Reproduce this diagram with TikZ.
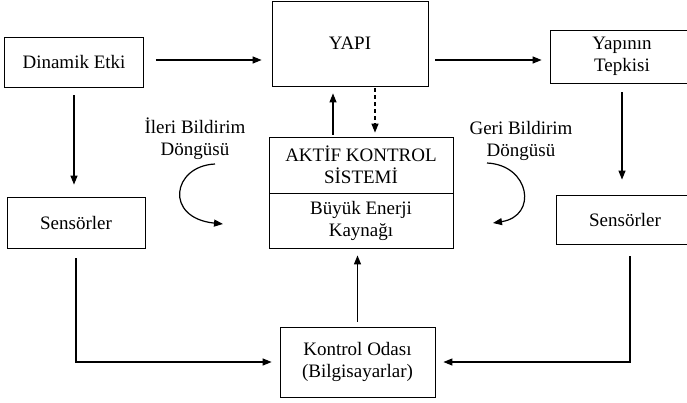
\documentclass[tikz,border=0pt]{standalone}
\usepackage{fontspec}
\setmainfont{Liberation Serif}
\usetikzlibrary{arrows.meta}

\begin{document}
\begin{tikzpicture}[x=1pt, y=-1pt,
  box/.style={draw, line width=0.8pt, inner sep=0pt, align=center, font=\fontsize{19}{22}\selectfont},
  lbl/.style={align=center, font=\fontsize{19}{22}\selectfont},
  arr/.style={line width=1.2pt, -{Triangle[length=9pt,width=7pt]}}]
\useasboundingbox (0,0) rectangle (687,402);
\node[box, minimum width=139pt, minimum height=50pt] (dinamik) at (74,62) {Dinamik Etki};
\node[box, minimum width=156pt, minimum height=85pt] (yapi) at (350,43.5) {YAPI};
\node[box, minimum width=144pt, minimum height=53pt] (tepki) at (622,56.5) {Yapının\\Tepkisi};
\node[box, minimum width=138pt, minimum height=51pt] (sensL) at (76,222.5) {Sensörler};
\node[box, minimum width=138pt, minimum height=49pt] (sensR) at (625,219.5) {Sensörler};
\node[box, minimum width=184pt, minimum height=56pt] (aktif) at (361,165) {AKTİF KONTROL\\SİSTEMİ};
\node[box, minimum width=184pt, minimum height=55pt] (enerji) at (361,220.5) {Büyük Enerji\\Kaynağı};
\node[box, minimum width=155pt, minimum height=70pt] (kontrol) at (357.5,362) {Kontrol Odası\\(Bilgisayarlar)};
\node[lbl] (ileri) at (195,139) {İleri Bildirim\\Döngüsü};
\node[lbl] (geri) at (521,141) {Geri Bildirim\\Döngüsü};
\coordinate (ileriA) at (215,164);
\coordinate (ileriB) at (223,224);
\coordinate (geriA) at (487,163);
\coordinate (geriB) at (493,223);

\draw[arr, shorten <=12pt, shorten >=10pt] (dinamik.east |- 0,60) -- (yapi.west |- 0,60);
\draw[arr, shorten <=7pt, shorten >=8pt] (yapi.east |- 0,60) -- (tepki.west |- 0,60);
\draw[arr, shorten <=8pt, shorten >=12pt] (dinamik.south) -- (dinamik.south |- sensL.north);
\draw[arr, shorten <=9pt, shorten >=15pt] (tepki.south) -- (tepki.south |- sensR.north);
\draw[arr, shorten <=2pt, shorten >=7pt] (aktif.north -| 333,0) -- (yapi.south -| 333,0);
\draw[arr, dashed, dash pattern=on 4pt off 3pt, shorten <=2pt, shorten >=4pt] (yapi.south -| 375,0) -- (aktif.north -| 375,0);
\draw[arr, shorten <=5pt, shorten >=7pt] (kontrol.north) -- (kontrol.north |- enerji.south);
\draw[arr, shorten <=10pt, shorten >=8pt] (sensL.south) |- (kontrol.west);
\draw[arr, shorten <=12pt, shorten >=8pt] (sensR.south -| 630,0) |- (kontrol.east);
\draw[arr] (ileriA) .. controls (172,166) and (164,218) .. (ileriB);
\draw[arr] (geriA) .. controls (530,165) and (538,216) .. (geriB);
\end{tikzpicture}
\end{document}
